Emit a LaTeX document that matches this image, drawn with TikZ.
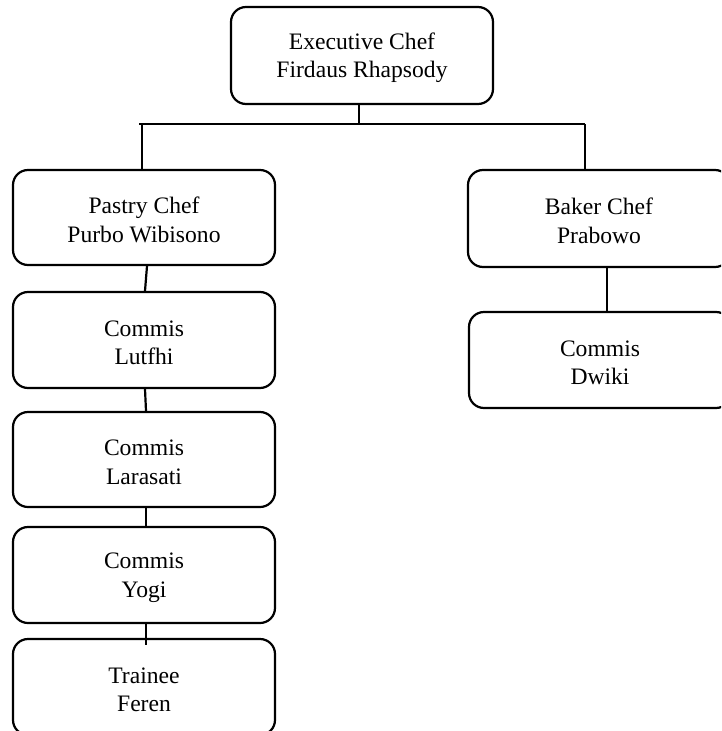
\documentclass[tikz,border=0pt]{standalone}
\usepackage{fontspec}
\setmainfont{Liberation Serif}
\newcommand\topstrut{\rule{0pt}{21.5pt}}
\begin{document}
\begin{tikzpicture}[x=1pt,y=-1pt,
  box/.style={draw=black, line width=2.2pt, rounded corners=15pt, minimum width=262pt, align=center, inner sep=0pt,
    font=\fontsize{23.6}{28.5}\selectfont},
  conn/.style={draw=black, line width=2.2pt}]
\useasboundingbox (0,0) rectangle (721,731);
\clip (0,0) rectangle (721,731);
\node[box, minimum height=97pt] (exec) at (362,55.5) {\topstrut Executive Chef\\Firdaus Rhapsody};
\node[box, minimum height=95pt] (pastry) at (144,217.5) {\topstrut Pastry Chef\\Purbo Wibisono};
\node[box, minimum height=97pt] (baker) at (599,218.5) {\topstrut Baker Chef\\Prabowo};
\node[box, minimum height=96pt] (dwiki) at (600,360) {\topstrut Commis\\Dwiki};
\node[box, minimum height=96pt] (lutfhi) at (144,340) {\topstrut Commis\\Lutfhi};
\node[box, minimum height=95pt] (larasati) at (144,459.5) {\topstrut Commis\\Larasati};
\node[box, minimum height=96pt] (yogi) at (144,575) {\topstrut Commis\\Yogi};
\node[box, minimum height=96pt] (trainee) at (144,687) {\topstrut Trainee\\Feren};
\coordinate (bartop) at (359,124);
\coordinate (barL) at (139,124);
\coordinate (barR) at (585,124);
\coordinate (dropL) at (142,124);
\draw[conn] (exec.south -| bartop) -- (bartop);
\draw[conn] (barL) -- (barR);
\draw[conn] (dropL) -- (dropL |- pastry.north);
\draw[conn] (barR) -- (barR |- baker.north);
\draw[conn] ([xshift=3pt]pastry.south) -- ([xshift=1pt]lutfhi.north);
\draw[conn] ([xshift=1pt]lutfhi.south) -- ([xshift=2pt]larasati.north);
\draw[conn] ([xshift=2pt]larasati.south) -- ([xshift=2pt]yogi.north);
\draw[conn] ([xshift=2pt]yogi.south) -- ([xshift=2pt,yshift=-7pt]trainee.north);
\draw[conn] ([xshift=8pt]baker.south) -- ([xshift=7pt]dwiki.north);
\end{tikzpicture}
\end{document}
